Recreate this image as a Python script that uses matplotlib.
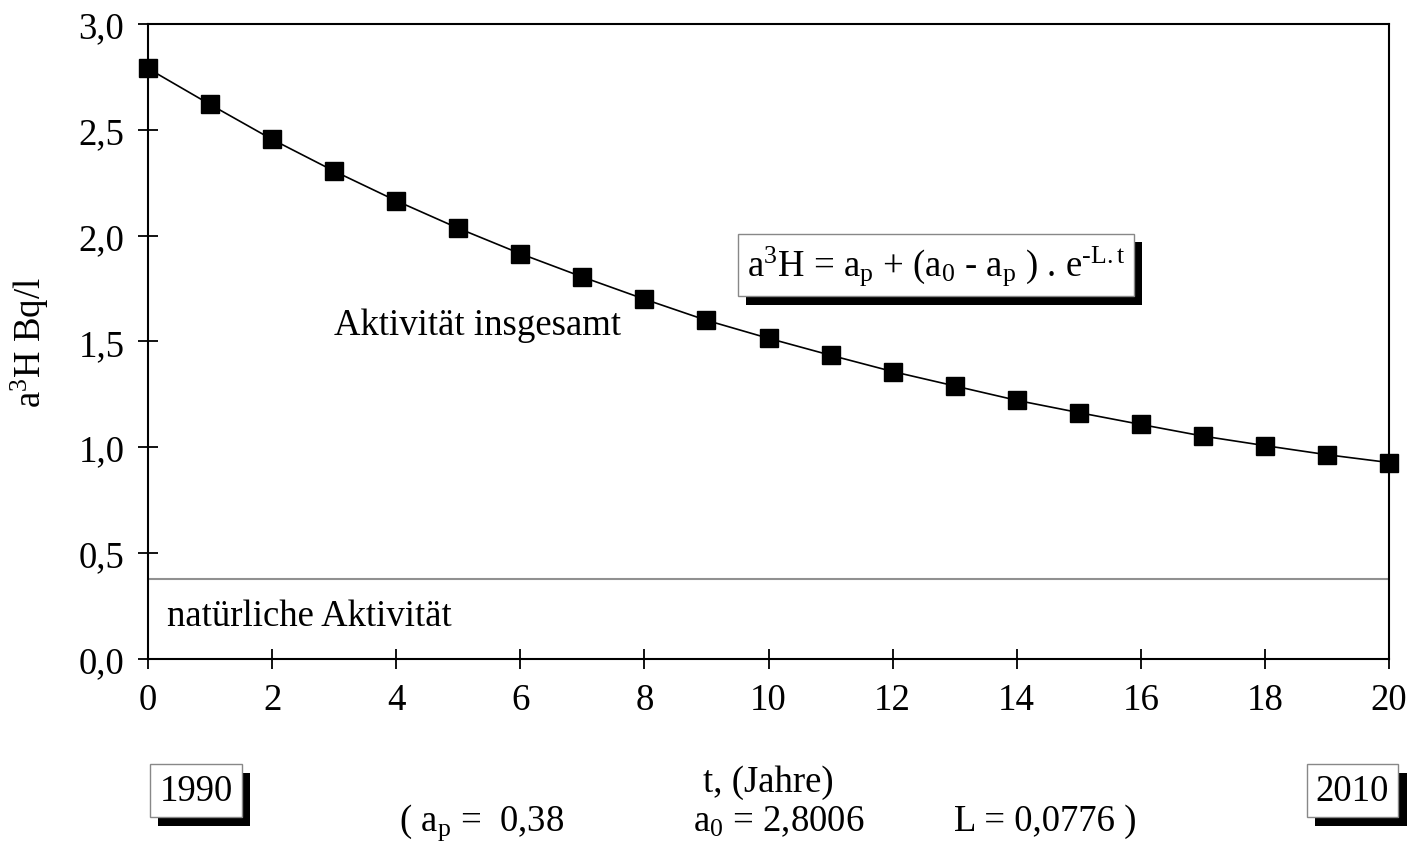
import matplotlib
matplotlib.use("Agg")
import matplotlib.pyplot as plt
import matplotlib.patheffects as pe

plt.rcParams['font.family'] = ['Liberation Serif', 'DejaVu Serif']
plt.rcParams['mathtext.fontset'] = 'custom'
plt.rcParams['mathtext.rm'] = 'Liberation Serif'
plt.rcParams['mathtext.it'] = 'Liberation Serif:italic'

# data
t_years = list(range(21))
activity = [2.79, 2.62, 2.455, 2.305, 2.165, 2.035, 1.915, 1.805, 1.70, 1.60,
            1.515, 1.435, 1.358, 1.29, 1.222, 1.164, 1.108, 1.053, 1.008, 0.965, 0.928]
a_natural = 0.38
y_ticks = [0.0, 0.5, 1.0, 1.5, 2.0, 2.5, 3.0]
x_ticks = list(range(0, 21, 2))

FS = 26.5

fig = plt.figure(figsize=(14.2, 8.45), dpi=100)
ax = fig.add_axes([0.1042, 0.219, 0.8740, 0.7514])

ax.plot(t_years, activity, color='black', lw=1.2, marker='s', ms=13,
        mfc='black', mec='black', clip_on=False, zorder=3)
ax.axhline(a_natural, color='#909090', lw=1.5)

ax.set_xlim(0, 20)
ax.set_ylim(0, 3.0)
ax.set_xticks(x_ticks)
ax.set_yticks(y_ticks)
ax.set_yticklabels([f"{v:.1f}".replace('.', ',') for v in y_ticks])
ax.tick_params(direction='inout', length=14, width=1.3, labelsize=FS, pad=10)
ax.tick_params(axis='x', pad=10)
for s in ax.spines.values():
    s.set_linewidth(1.5)

ax.set_xlabel('t, (Jahre)', fontsize=FS, labelpad=34)
ax.set_ylabel(r'a$^{3}$H Bq/l', fontsize=FS, labelpad=20)

ax.text(7.62, 1.578, 'Aktivität insgesamt', fontsize=FS, ha='right', va='center')
ax.text(0.3, 0.203, 'natürliche Aktivität', fontsize=FS, ha='left', va='center')

# formula box with drop shadow
shadow = [pe.withSimplePatchShadow(offset=(6, -6), shadow_rgbFace='black', alpha=1.0)]
txt = ax.text(9.65, 1.86,
              'a$^{3}$H = a$_{\\mathrm{p}}$ + (a$_{0}$ - a$_{\\mathrm{p}}$ ) . e$^{\u2010\\mathrm{L}{.}\\mathrm{t}}$',
              fontsize=FS, ha='left', va='center',
              bbox=dict(boxstyle='square,pad=0.25', fc='white', ec='#888888', lw=1))
txt.get_bbox_patch().set_path_effects(shadow)

for xf, lab in [(0.138, '1990'), (0.9525, '2010')]:
    b = fig.text(xf, 0.063, lab, fontsize=FS, ha='center', va='center',
                 bbox=dict(boxstyle='square,pad=0.25', fc='white', ec='#888888', lw=1))
    b.get_bbox_patch().set_path_effects(shadow)

fig.text(0.281, 0.027, r'( a$_{\mathrm{p}}$ =  0,38', fontsize=FS, ha='left', va='center')
fig.text(0.488, 0.027, r'a$_{0}$ = 2,8006', fontsize=FS, ha='left', va='center')
fig.text(0.672, 0.027, 'L = 0,0776 )', fontsize=FS, ha='left', va='center')

fig.savefig('out.png', dpi=100)
